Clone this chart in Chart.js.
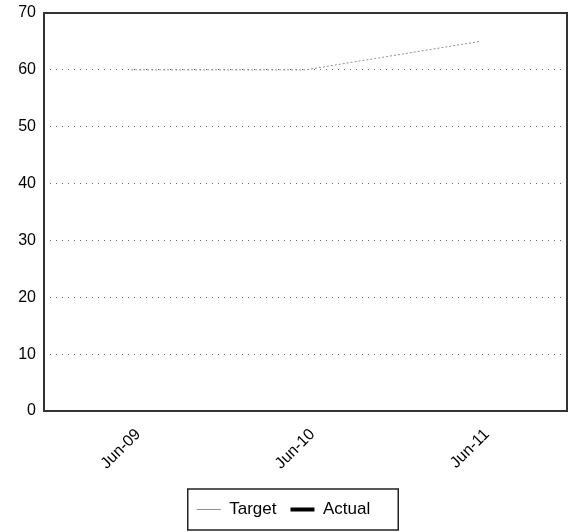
<!DOCTYPE html>
<html>
<head>
<meta charset="utf-8">
<script src="https://cdn.jsdelivr.net/npm/chart.js@4/dist/chart.umd.min.js"></script>
<style>
  html, body { margin: 0; padding: 0; background: #fff; }
  #wrap { width: 574px; height: 532px; position: relative; }
</style>
</head>
<body>
<div id="wrap"><canvas id="c"></canvas></div>
<script>
const categories = ["Jun-09", "Jun-10", "Jun-11"];
const targetValues = [60, 60, 65];
const actualValues = [null, null, null];
const seriesNames = ["Target", "Actual"];
const yTicks = [0, 10, 20, 30, 40, 50, 60, 70];

const FONT = "'Liberation Sans', Arial, sans-serif";

const frameAndLegendBox = {
  id: 'frameAndLegendBox',
  afterDraw(chart) {
    const ctx = chart.ctx;
    const a = chart.chartArea;
    ctx.save();
    ctx.strokeStyle = '#333';
    ctx.lineWidth = 2;
    ctx.strokeRect(a.left, a.top, a.right - a.left, a.bottom - a.top);
    const boxes = chart.legend && chart.legend.legendHitBoxes;
    if (boxes && boxes.length) {
      let l = Infinity, r = -Infinity, t = Infinity, b = -Infinity;
      boxes.forEach(h => { l = Math.min(l, h.left); r = Math.max(r, h.left + h.width); t = Math.min(t, h.top); b = Math.max(b, h.top + h.height); });
      ctx.lineWidth = 1.5;
      ctx.strokeStyle = '#222';
      ctx.strokeRect(l - 9, t - 12, (r - l) + 9 + 28, (b - t) + 24);
    }
    ctx.restore();
  }
};

new Chart(document.getElementById('c'), {
  type: 'line',
  data: {
    labels: categories,
    datasets: [
      {
        label: seriesNames[0],
        data: targetValues,
        borderColor: '#909090',
        backgroundColor: '#909090',
        borderWidth: 1,
        borderDash: [2, 2],
        pointRadius: 0,
        tension: 0,
        fill: false
      },
      {
        label: seriesNames[1],
        data: actualValues,
        borderColor: '#000',
        backgroundColor: '#000',
        borderWidth: 4,
        pointRadius: 0,
        fill: false
      }
    ]
  },
  options: {
    responsive: true,
    maintainAspectRatio: false,
    animation: false,
    layout: { padding: { top: 13, right: 7, left: 0, bottom: 4 } },
    plugins: {
      tooltip: { enabled: false },
      legend: {
        position: 'bottom',
        labels: {
          usePointStyle: true,
          pointStyle: 'line',
          pointStyleWidth: 24,
          color: '#000',
          padding: 14,
          font: { family: FONT, size: 17 }
        }
      }
    },
    scales: {
      x: {
        offset: true,
        grid: { display: false, drawTicks: false },
        border: { display: false },
        ticks: {
          color: '#000',
          minRotation: 45,
          maxRotation: 45,
          padding: 14,
          labelOffset: 7,
          font: { family: FONT, size: 16 }
        },
        afterFit(s) { s.height = 76; s.paddingLeft = 0; s.paddingRight = 0; }
      },
      y: {
        min: 0,
        max: 70,
        grid: {
          color: (c) => (c.tick && (c.tick.value === 0 || c.tick.value === 70)) ? 'rgba(0,0,0,0)' : '#666',
          lineWidth: 1,
          drawTicks: false
        },
        border: { display: false, dash: [1, 5] },
        ticks: {
          color: '#000',
          stepSize: 10,
          padding: 8,
          font: { family: FONT, size: 16 },
          callback: (v) => yTicks.includes(v) ? String(v) : ''
        },
        afterFit(s) { s.width = 44; s.paddingTop = 0; s.paddingBottom = 0; }
      }
    }
  },
  plugins: [frameAndLegendBox]
});
</script>
</body>
</html>
